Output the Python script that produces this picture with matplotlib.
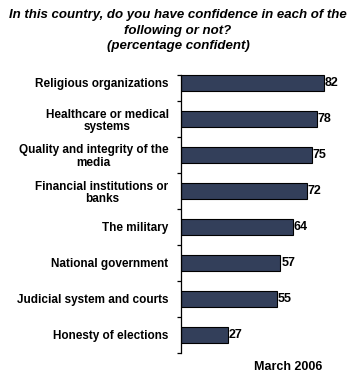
import matplotlib.pyplot as plt
import numpy as np

categories = ['Religious organizations', 'Healthcare or medical\nsystems',
              'Quality and integrity of the\nmedia', 'Financial institutions or\nbanks',
              'The military', 'National government', 'Judicial system and courts',
              'Honesty of elections']
values = [82, 78, 75, 72, 64, 57, 55, 27]
title = ('In this country, do you have confidence in each of the\n'
         'following or not?\n(percentage confident)')
note = 'March 2006'

plt.rcParams['font.family'] = ['Liberation Sans', 'DejaVu Sans']

fig = plt.figure(figsize=(3.56, 3.84), dpi=100)
ax = fig.add_axes([181 / 356, 31 / 384, 174.4 / 356, 288 / 384])

y = np.arange(len(categories))
ax.barh(y, values, height=0.42, color='#333f5a', edgecolor='black', linewidth=0.8)
for yi, v in zip(y, values):
    ax.text(v + 0.5, yi, str(v), va='center', ha='left', fontsize=9, fontweight='bold')

ax.set_xlim(0, 100)
ax.set_ylim(7.5, -0.5)
for s in ['top', 'right', 'bottom']:
    ax.spines[s].set_visible(False)
ax.spines['left'].set_bounds(-0.22, 7.5)
ax.spines['left'].set_linewidth(0.9)
ax.set_xticks([])

ax.set_yticks(y)
ax.set_yticklabels(categories, fontsize=8.5, fontweight='bold', linespacing=1.1)
ax.tick_params(axis='y', which='major', length=0, pad=9)
ax.set_yticks([-0.22] + list(np.arange(0.5, 8, 1)), minor=True)
ax.tick_params(axis='y', which='minor', length=3, width=0.9)
for lab in ax.get_yticklabels():
    lab.set_horizontalalignment('right')
    lab.set_multialignment('center')

fig.text(0.5, 1 - 9 / 384, title, ha='center', va='top', fontsize=9.5,
         fontweight='bold', fontstyle='italic', linespacing=1.4)
fig.text(322 / 356, 1 - 367 / 384, note, ha='right', va='center', fontsize=9,
         fontweight='bold')

fig.savefig('out.png', dpi=100)
